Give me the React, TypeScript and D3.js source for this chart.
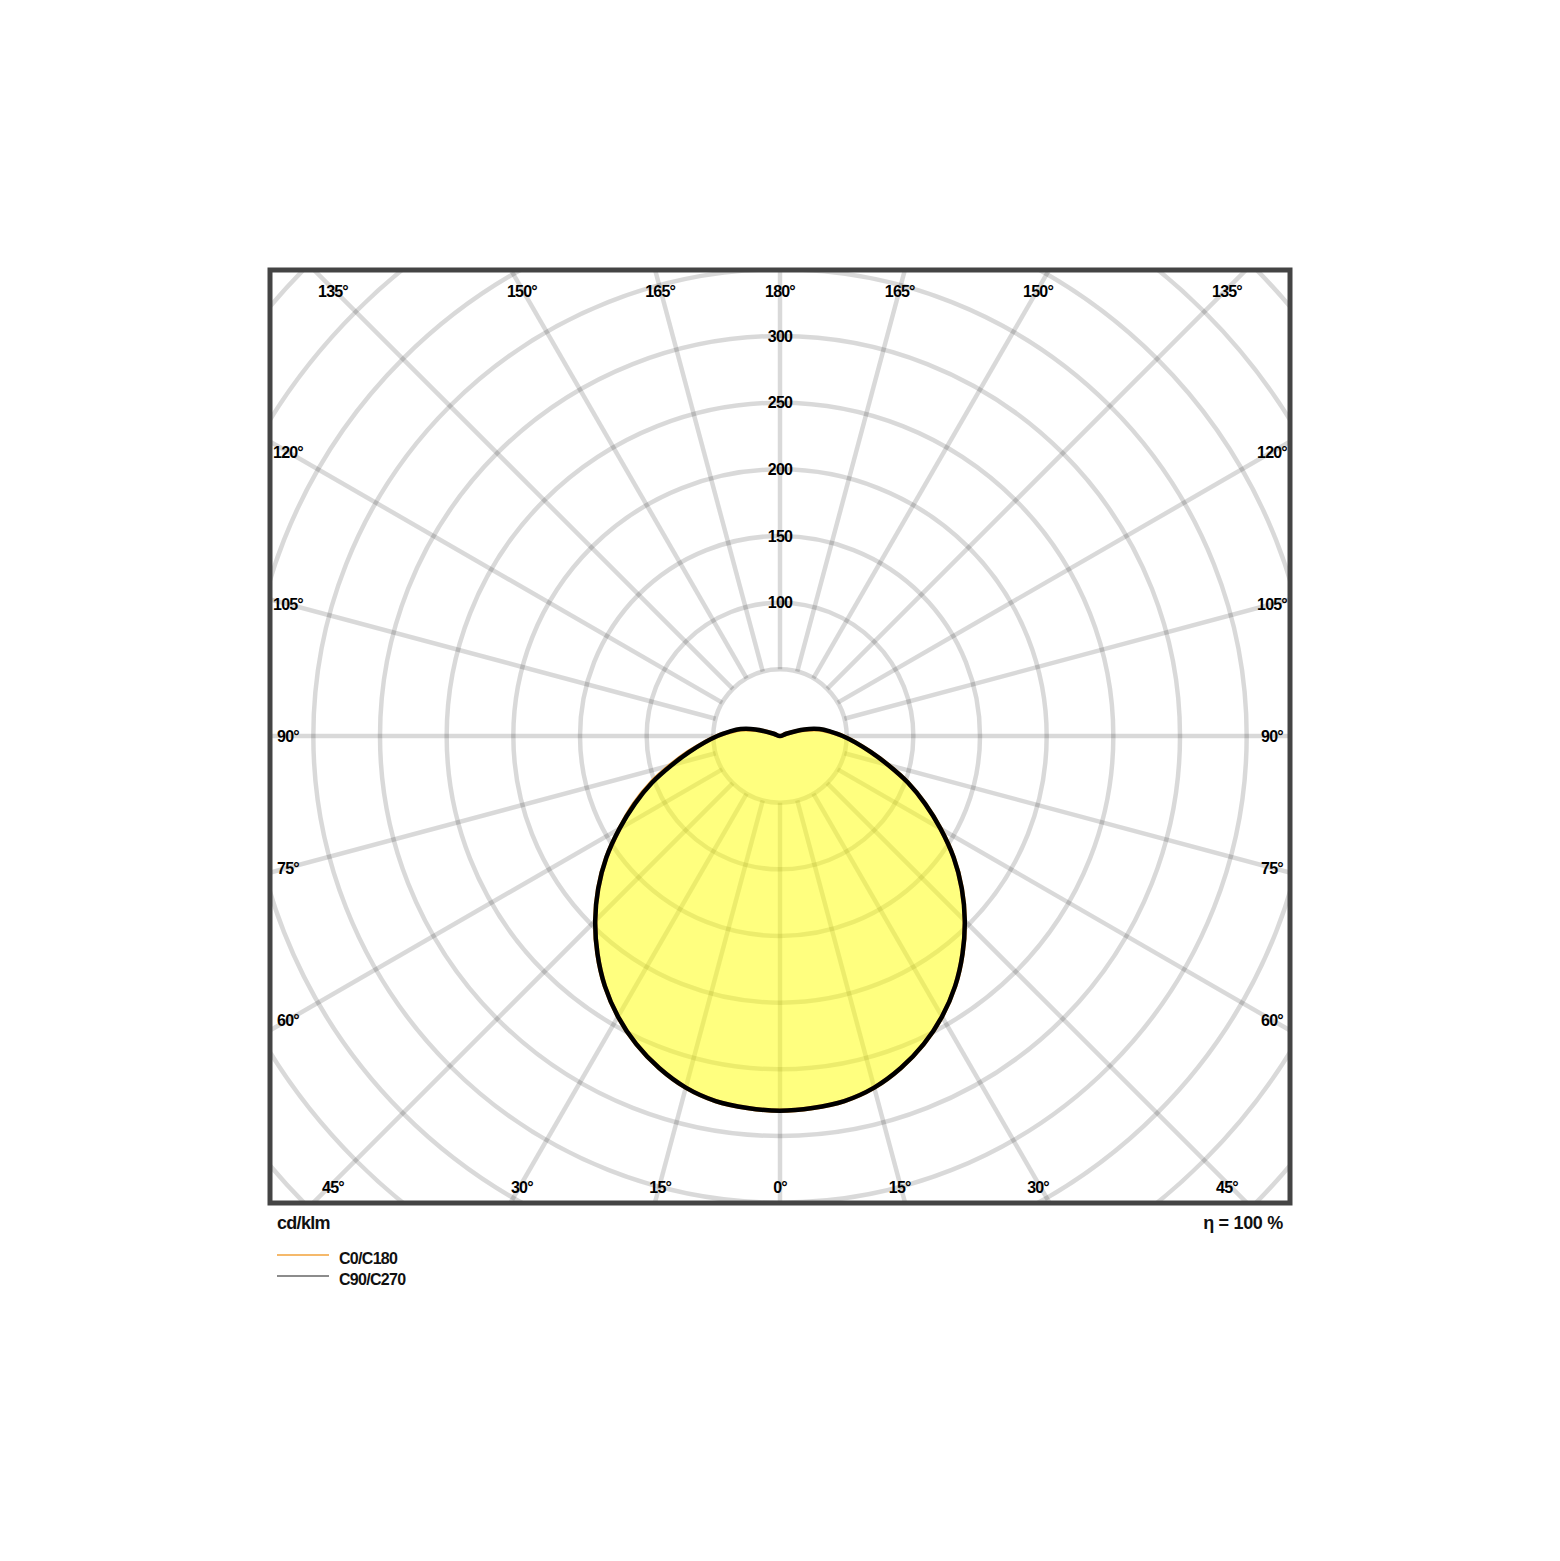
import React, { FC, useMemo } from "react";
import * as d3 from "d3";

// gamma angle from nadir (deg) and intensities in cd/klm
const gammaAngles = [0, 5, 10, 15, 20, 25, 30, 35, 40, 45, 50, 55, 60, 65, 70, 75, 80, 85, 90, 95, 100, 105, 110];
const c0Values = [281, 280, 278, 273, 265, 255, 243, 229, 213, 196, 178, 159, 139, 120, 102, 84, 69, 57, 47, 37, 29, 17, 5];
const c180Values = [281, 280, 278, 273, 265, 255, 243, 229, 213, 196, 178, 159, 139, 121, 103, 85, 70, 57, 47, 37, 29, 17, 5];
const c90Values = [281, 280, 278, 273, 265, 255, 243, 229, 213, 196, 178, 159, 139, 120, 102, 84, 69, 57, 47, 38, 30, 19, 5];
const c270Values = [281, 280, 278, 273, 265, 255, 243, 229, 213, 196, 178, 159, 139, 120, 102, 84, 69, 57, 47, 38, 30, 19, 5];

const ringTicks = [50, 100, 150, 200, 250, 300, 350, 400, 450, 500, 550];
const ringLabels = [100, 150, 200, 250, 300];
const angleTicks = [0, 15, 30, 45, 60, 75, 90, 105, 120, 135, 150, 165, 180];

const legendItems = ["C0/C180", "C90/C270"];
const unitLabel = "cd/klm";
const efficiencyLabel = "η = 100 %";

const fontFamily = "'Liberation Sans', Arial, Helvetica, sans-serif";
const gridColor = "rgba(0,0,0,0.15)";
const orangeColor = "#f2a23a";
const curveColor = "#000";

export const PolarLdc: FC<any> = (props: any) => {
    const {
        width = 1560,
        height = 1561,
        cx = 780,
        cy = 736,
        frame = { x: 270, y: 270, w: 1020, h: 933 },
        // where the spokes meet the label band, and where the labels sit
        labelBox = { left: 288, right: 1272, top: 289, bottom: 1183 },
        labelEdge = { top: 291, bottom: 1187 },
    } = props;

    const r = useMemo(() => d3.scaleLinear().domain([0, 300]).range([0, 400]), []);

    // closed outline from the left half (a) and right half (b)
    const outline = useMemo(() => {
        const line = d3
            .lineRadial<[number, number]>()
            .angle((d) => d[0])
            .radius((d) => d[1])
            .curve(d3.curveCatmullRomClosed.alpha(0.5));
        return (left: number[], right: number[]) => {
            const pts: [number, number][] = [];
            for (let i = gammaAngles.length - 1; i >= 1; i--) {
                const g = (gammaAngles[i] * Math.PI) / 180;
                pts.push([Math.PI + g, r(left[i])]);
            }
            for (let i = 0; i < gammaAngles.length; i++) {
                const g = (gammaAngles[i] * Math.PI) / 180;
                pts.push([Math.PI - g, r(right[i])]);
            }
            pts.push([0, 0]);
            return line(pts) || "";
        };
    }, [r]);

    const pathC0 = useMemo(() => outline(c180Values, c0Values), [outline]);
    const pathC90 = useMemo(() => outline(c270Values, c90Values), [outline]);

    // spokes on both sides, every 15 deg
    const spokes = useMemo(() => {
        const out: number[] = [];
        angleTicks.forEach((a) => {
            out.push(a);
            if (a !== 0 && a !== 180) out.push(-a);
        });
        return out;
    }, []);

    const angleLabels = useMemo(
        () =>
            spokes.map((a) => {
                const t = (a * Math.PI) / 180;
                const dx = Math.sin(t);
                const dy = Math.cos(t);
                const cand: [number, string][] = [];
                if (dx > 1e-6) cand.push([(labelBox.right - cx) / dx, "side"]);
                if (dx < -1e-6) cand.push([(labelBox.left - cx) / dx, "side"]);
                if (dy > 1e-6) cand.push([(labelBox.bottom - cy) / dy, "bottom"]);
                if (dy < -1e-6) cand.push([(labelBox.top - cy) / dy, "top"]);
                cand.sort((p, q) => p[0] - q[0]);
                const [k, edge] = cand[0];
                let y = cy + dy * k;
                if (edge === "top") y = labelEdge.top;
                if (edge === "bottom") y = labelEdge.bottom;
                return { a: Math.abs(a), x: cx + dx * k, y };
            }),
        [spokes, labelBox, labelEdge, cx, cy]
    );

    const inner = r(50);
    const outer = 900;

    return (
        <svg
            width={width}
            height={height}
            style={{ position: "absolute", top: 0, left: 0, background: "#fff" }}
            fontFamily={fontFamily}
        >
            <defs>
                <clipPath id="frameClip">
                    <rect x={frame.x} y={frame.y} width={frame.w} height={frame.h} />
                </clipPath>
            </defs>
            <rect x={0} y={0} width={width} height={height} fill="#fff" />
            <g clipPath="url(#frameClip)">
                <g transform={`translate(${cx},${cy})`} stroke={gridColor} strokeWidth={4.5} fill="none">
                    {ringTicks.map((d) => (
                        <circle key={d} r={r(d)} />
                    ))}
                    {spokes.map((a) => {
                        const t = (a * Math.PI) / 180;
                        return (
                            <line
                                key={a}
                                x1={Math.sin(t) * inner}
                                y1={Math.cos(t) * inner}
                                x2={Math.sin(t) * outer}
                                y2={Math.cos(t) * outer}
                            />
                        );
                    })}
                </g>
                <g transform={`translate(${cx},${cy})`}>
                    <path d={pathC90} fill="#ffff00" fillOpacity={0.5} stroke="none" />
                    <path d={pathC0} fill="none" stroke={orangeColor} strokeWidth={4.5} strokeLinejoin="round" />
                    <path d={pathC90} fill="none" stroke={curveColor} strokeWidth={4.5} strokeLinejoin="round" />
                </g>
                <g fontSize={16} fontWeight="bold" fill="#000" textAnchor="middle" letterSpacing={-0.8}>
                    {ringLabels.map((d) => (
                        <text key={d} x={cx} y={cy - r(d)} dy="0.36em">
                            {d}
                        </text>
                    ))}
                    {angleLabels.map((d, i) => (
                        // eslint-disable-next-line react/no-array-index-key
                        <text key={i} x={d.x} y={d.y} dy="0.36em">
                            {`${d.a}°`}
                        </text>
                    ))}
                </g>
            </g>
            <rect
                x={frame.x}
                y={frame.y}
                width={frame.w}
                height={frame.h}
                fill="none"
                stroke="#444"
                strokeWidth={5}
            />
            <text x={277} y={1229} fontSize={18} fontWeight="bold" letterSpacing={-0.7} fill="#111">
                {unitLabel}
            </text>
            <text x={1283} y={1229} fontSize={18} fontWeight="bold" textAnchor="end" letterSpacing={-0.3} fill="#111">
                {efficiencyLabel}
            </text>
            <g fontSize={16} fontWeight="bold" letterSpacing={-0.7} fill="#111">
                {legendItems.map((d, i) => (
                    <g key={d} transform={`translate(0,${i * 21})`}>
                        <line
                            x1={277}
                            x2={329}
                            y1={1255}
                            y2={1255}
                            stroke={i === 0 ? orangeColor : "#666"}
                            strokeWidth={1.5}
                        />
                        <text x={339} y={1264}>
                            {d}
                        </text>
                    </g>
                ))}
            </g>
        </svg>
    );
};

export default function App() {
    return <PolarLdc />;
}
